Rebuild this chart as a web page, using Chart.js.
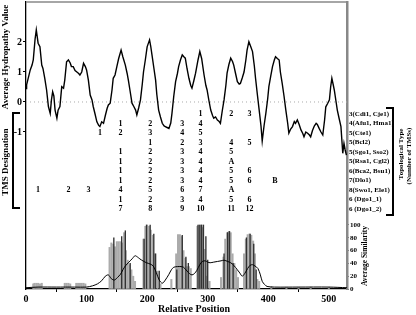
<!DOCTYPE html>
<html>
<head>
<meta charset="utf-8">
<script src="https://cdn.jsdelivr.net/npm/chart.js@4.4.1/dist/chart.umd.min.js"></script>
<style>
  html, body { margin: 0; padding: 0; background: #fff; }
  #chart { display: block; }
</style>
</head>
<body>
<canvas id="chart" width="416" height="315"></canvas>
<script>
// hydropathy profile (relative position -> average hydropathy)
const hydPos = [0,1,7,10,12,15,17,20,23,26,28,31,34,37,40,42,44,46,48,51,53,56,59,62,64,67,70,73,75,78,81,84,87,89,92,95,98,100,103,106,109,111,114,117,120,122,125,128,131,134,136,139,142,144,147,150,153,157,160,164,167,169,172,175,178,181,183,186,189,192,194,197,200,204,206,208,211,214,216,219,222,225,228,230,233,236,239,241,244,247,250,252,255,258,261,263,266,269,272,274,277,280,284,287,290,294,297,299,302,305,308,310,313,316,319,321,324,327,330,332,335,338,341,343,346,349,352,354,357,360,363,365,368,371,374,377,379,382,385,388,390,393,396,399,401,404,407,410,412,415,418,420,423,426,429,432,434,437,440,443,445,448,451,454,457,459,462,465,468,470,473,476,479,481,484,487,490,493,495,498,501,503,505,507,509,512,514,517,520,523,525,527,529];
const hydVal = [0.45,0.57,1.07,1.23,1.4,2.1,2.4,1.96,1.84,1.23,1.12,0.79,0.4,-0.15,-0.38,0.07,0.34,0.2,-0.27,-0.54,-0.27,-0.15,0.51,0.46,0.73,1.34,1.4,1.3,1.18,1.18,1.05,1.0,0.95,0.9,1.0,1.29,1.18,1.07,0.73,0.23,0.07,-0.15,-0.4,-0.66,-0.78,-0.82,-0.66,-0.71,-0.45,-0.21,-0.1,-0.04,0.4,0.79,0.9,1.18,1.45,1.73,1.5,1.23,0.95,0.73,0.35,-0.04,-0.15,-0.27,-0.43,-0.2,0.07,0.6,1.0,1.4,1.84,2.07,1.85,1.57,1.15,0.73,0.25,-0.27,-0.5,-0.71,-0.8,-0.82,-0.85,-0.88,-0.7,-0.38,0.2,0.68,0.95,1.18,1.4,1.57,1.5,1.46,1.1,0.79,0.55,0.46,0.7,0.96,1.4,1.68,1.45,0.9,0.55,0.4,0.05,-0.27,-0.45,-0.54,-0.5,-0.6,-0.65,-0.71,-0.3,0.07,0.55,0.96,1.25,1.46,1.35,1.23,0.95,0.68,0.6,0.62,0.8,1.0,1.4,1.73,2.01,1.85,1.68,1.2,0.79,0.25,-0.27,-0.8,-1.3,-0.8,-0.38,0.1,0.51,0.85,1.18,1.4,1.51,1.45,1.4,1.0,0.62,0.2,-0.27,-0.7,-1.04,-0.9,-0.82,-0.65,-0.71,-0.6,-0.75,-0.93,-1.05,-1.16,-1.0,-1.04,-1.1,-1.16,-0.95,-0.8,-0.71,-0.75,-0.88,-1.0,-1.1,-0.6,-0.16,-0.05,0.07,0.5,0.79,0.6,0.4,0.0,-0.27,-0.55,-0.82,-1.71,-1.38,-1.6,-1.77];

// zero reference
const zeroPos = [0, 530];
const zeroVal = [0, 0];

// similarity histogram (gray bars and dark lines)
const barPos = [12,14,17,20,23,26,64,67,70,73,83,86,89,92,95,98,138,141,144,147,150,153,156,159,162,165,168,171,174,177,180,194,197,200,203,206,209,212,217,222,240,248,251,254,257,260,263,266,269,272,283,286,289,292,295,298,303,322,326,329,332,335,338,341,344,347,350,360,363,366,369,372,375,378,382,385,405,430,450,470,500];
const barSim = [8,9,9,9,8,9,9,9,9,8,9,9,9,9,9,8,65,72,70,66,74,74,74,72,88,60,45,38,30,20,12,78,98,100,98,92,84,55,28,8,15,55,85,85,82,60,48,35,35,32,98,100,100,96,62,20,12,18,50,78,88,90,88,55,40,30,18,55,78,85,86,84,75,55,15,12,4,3,3,3,3];
const linePos = [145,158,164,172,195,199,205,211,214,220,249,258,264,268,284,287,290,293,297,300,327,333,336,342,364,370,376,380];
const lineSim = [80,82,91,40,78,100,100,86,55,28,30,84,50,40,100,100,100,100,82,45,55,88,90,40,80,86,70,30];

// average similarity curve
const simPos = [0,20,50,80,100,110,118,125,131,136,141,146,151,156,160,164,170,176,180,184,188,193,199,205,210,215,220,225,230,236,240,244,250,256,260,266,270,274,278,282,287,291,296,300,304,310,316,322,327,333,338,343,349,353,357,361,366,370,374,378,383,387,390,394,398,410,450,500,530];
const simAvg = [2,3,3,3,3,5,8,13,20,22,16,14,18,23,30,36,42,48,52,50,47,44,41,39,36,26,14,9,14,23,30,34,35,35,34,28,24,22,24,29,38,43,44,42,41,42,43,44,45,43,41,37,30,25,20,24,32,37,38,36,32,22,12,7,4,3,3,3,2];

// TMS designation grid
const tmsPositions = [20, 70, 103, 122, 156, 205, 258, 288, 339, 369, 411];
const topoTypes = ['3(Cdi1, Cje1)', '4(Afu1, Hma1)', '5(Cte1)', '5(Bcl2)', '5(Sgo1, Sso2)', '5(Rsa1, Cgl2)',
  '6(Bca2, Bsu1)', '7(Dlo1)', '8(Swo1, Ele1)', '6 (Dgo1_1)', '6 (Dgo1_2)'];
const tmsRows = [
  ['', '', '', '', '', '', '', '1', '2', '3', ''],
  ['', '', '', '', '1', '2', '3', '4', '', '', ''],
  ['', '', '', '1', '2', '3', '4', '5', '', '', ''],
  ['', '', '', '', '', '1', '2', '3', '4', '5', ''],
  ['', '', '', '', '1', '2', '3', '4', '5', '', ''],
  ['', '', '', '', '1', '2', '3', '4', 'A', '', ''],
  ['', '', '', '', '1', '2', '3', '4', '5', '6', ''],
  ['', '', '', '', '1', '2', '3', '4', '5', '6', 'B'],
  ['1', '2', '3', '', '4', '5', '6', '7', 'A', '', ''],
  ['', '', '', '', '1', '2', '3', '4', '5', '6', ''],
  ['', '', '', '', '7', '8', '9', '10', '11', '12', '']
];

const xTicks = [0, 100, 200, 300, 400, 500];
const hydTicks = [-1, 0, 1, 2];
const simTicks = [0, 20, 40, 60, 80, 100];

const serif = '"Liberation Serif", "DejaVu Serif", serif';
const pts = (xs, ys) => xs.map((v, i) => ({ x: v, y: ys[i] }));

const overlay = {
  id: 'overlay',
  afterDraw(chart) {
    const { ctx, chartArea: a, scales } = chart;
    const x = scales.x, y = scales.y;
    ctx.save();
    // top border
    ctx.strokeStyle = '#888';
    ctx.lineWidth = 1.5;
    ctx.beginPath();
    ctx.moveTo(a.left, a.top);
    ctx.lineTo(a.right, a.top);
    ctx.stroke();

    // TMS grid and topological types
    ctx.fillStyle = '#000';
    ctx.textBaseline = 'middle';
    tmsRows.forEach((row, i) => {
      const py = y.getPixelForValue(-0.4 - i * 0.3167);
      ctx.font = 'bold 8px ' + serif;
      ctx.textAlign = 'center';
      row.forEach((t, j) => {
        if (t) ctx.fillText(t, x.getPixelForValue(tmsPositions[j]), py);
      });
      ctx.font = 'bold 7px ' + serif;
      ctx.textAlign = 'left';
      ctx.fillText(topoTypes[i], a.right + 2, py);
    });

    // brackets
    ctx.strokeStyle = '#000';
    ctx.lineWidth = 2;
    ctx.beginPath();
    ctx.moveTo(20, 113); ctx.lineTo(13, 113); ctx.lineTo(13, 208); ctx.lineTo(20, 208);
    ctx.moveTo(386, 108); ctx.lineTo(393, 108); ctx.lineTo(393, 215); ctx.lineTo(386, 215);
    ctx.stroke();

    // rotated titles
    const vtext = (t, px, py, font) => {
      ctx.save();
      ctx.translate(px, py);
      ctx.rotate(-Math.PI / 2);
      ctx.font = font;
      ctx.textAlign = 'center';
      ctx.textBaseline = 'middle';
      ctx.fillText(t, 0, 0);
      ctx.restore();
    };
    vtext('Average Hydropathy Value', 6, 57, 'bold 9px ' + serif);
    vtext('TMS Designation', 6, 162, 'bold 9px ' + serif);
    vtext('Topological Type', 401, 154, 'bold 7px ' + serif);
    vtext('(Number of TMSs)', 409, 156, 'bold 7px ' + serif);
    vtext('Average Similarity', 365, 256, 'bold 7.5px ' + serif);

    ctx.font = 'bold 10px ' + serif;
    ctx.textAlign = 'center';
    ctx.textBaseline = 'middle';
    ctx.fillText('Relative Position', 194, 309);
    ctx.restore();
  }
};

const noPad = s => { s.paddingTop = 0; s.paddingBottom = 0; s.paddingLeft = 0; s.paddingRight = 0; };

const ctx = document.getElementById('chart').getContext('2d');
new Chart(ctx, {
  type: 'line',
  data: {
    datasets: [
      {
        type: 'line', data: pts(hydPos, hydVal), yAxisID: 'y',
        borderColor: '#000', borderWidth: 1.4, pointRadius: 0, tension: 0, order: 1
      },
      {
        type: 'line', data: pts(zeroPos, zeroVal), yAxisID: 'y',
        borderColor: '#aaa', borderWidth: 1, borderDash: [1, 3], pointRadius: 0, order: 2
      },
      {
        type: 'line', data: pts(simPos, simAvg), yAxisID: 'y2',
        borderColor: '#000', borderWidth: 1, pointRadius: 0, tension: 0.3, order: 1
      },
      {
        type: 'bar', data: pts(linePos, lineSim), yAxisID: 'y2',
        backgroundColor: '#333', barThickness: 0.7, grouped: false, order: 3
      },
      {
        type: 'bar', data: pts(barPos, barSim), yAxisID: 'y2',
        backgroundColor: '#ababab', barThickness: 1.4, grouped: false, order: 4
      }
    ]
  },
  options: {
    responsive: false,
    animation: false,
    devicePixelRatio: 1,
    layout: { padding: { top: 2, left: 0, right: 0, bottom: 0 } },
    plugins: { legend: { display: false }, tooltip: { enabled: false } },
    scales: {
      x: {
        type: 'linear', min: 0, max: 530, offset: false,
        afterBuildTicks: s => { s.ticks = xTicks.map(v => ({ value: v })); },
        afterFit: s => { s.height = 26; noPad(s); },
        ticks: { color: '#000', font: { family: serif, weight: 'bold', size: 10 }, padding: 1, maxRotation: 0 },
        grid: { drawOnChartArea: false, tickLength: 3, color: '#000' },
        border: { color: '#000', width: 1.3 }
      },
      y: {
        position: 'left', min: -6.233, max: 3.333,
        afterBuildTicks: s => { s.ticks = hydTicks.map(v => ({ value: v })); },
        afterFit: s => { s.width = 26; noPad(s); },
        ticks: { color: '#000', font: { family: serif, weight: 'bold', size: 10 }, padding: 1 },
        grid: { drawOnChartArea: false, tickLength: 3, color: '#000' },
        border: { color: '#000', width: 1.3 }
      },
      y2: {
        position: 'right', min: 0, max: 448.4,
        afterBuildTicks: s => { s.ticks = simTicks.map(v => ({ value: v })); },
        afterFit: s => { s.width = 69; noPad(s); },
        ticks: { color: '#000', font: { family: serif, weight: 'bold', size: 7 }, padding: 1 },
        grid: { drawOnChartArea: false, tickLength: 2, color: '#000' },
        border: { color: '#888', width: 2.5 }
      }
    }
  },
  plugins: [overlay]
});
</script>
</body>
</html>
